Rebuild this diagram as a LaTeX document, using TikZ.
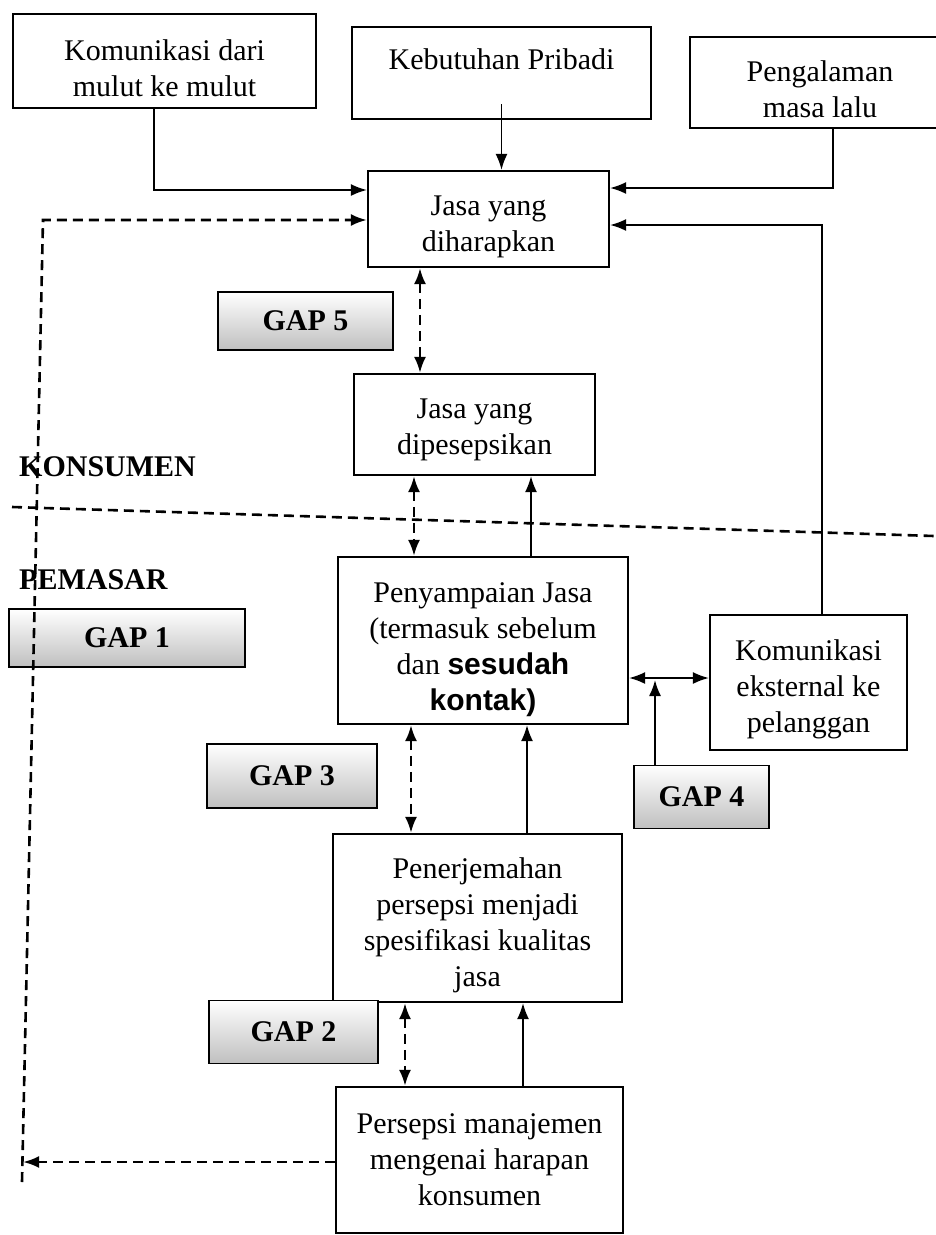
\documentclass[tikz,border=0pt]{standalone}
\usepackage{fontspec}
\setmainfont{Liberation Serif}
\setsansfont{Liberation Sans}
\usetikzlibrary{arrows.meta,calc}
\newcommand{\tpad}{\rule{0pt}{35pt}}
\begin{document}
\begin{tikzpicture}[x=1pt,y=-1pt,
  box/.style={draw, line width=2.2pt, align=center, inner sep=0pt, font=\fontsize{30}{36}\selectfont},
  gapbox/.style={draw, line width=1.6pt, top color=white, middle color=white, bottom color=black!25, inner sep=0pt, font=\bfseries\fontsize{30}{36}\selectfont},
  lbl/.style={inner sep=0pt, font=\bfseries\fontsize{30}{36}\selectfont},
  tip/.style={-{Latex[length=16pt,width=12pt]}},
  arr/.style={line width=1.8pt, tip},
  darr/.style={line width=1.8pt, {Latex[length=16pt,width=12pt]}-{Latex[length=16pt,width=12pt]}},
  dsh/.style={line width=2.6pt, dash pattern=on 10pt off 6pt},
  ddarr/.style={dsh, {Latex[length=16pt,width=12pt]}-{Latex[length=16pt,width=12pt]}},
]
\useasboundingbox[fill=white] (0,0) rectangle (936,1235);

% boxes
\node[box, minimum width=303pt, minimum height=94pt] (kom) at (164.5,61) {\tpad Komunikasi dari\\mulut ke mulut};
\node[box, minimum width=299pt, minimum height=92pt, text height=22pt, text depth=30pt] (kb) at (501.5,73) {Kebutuhan Pribadi};
\node[box, minimum width=260pt, minimum height=91pt] (pm) at (820,82.5) {\tpad Pengalaman\\masa lalu};
\node[box, minimum width=241pt, minimum height=96pt] (jd) at (488.5,219) {\tpad Jasa yang\\diharapkan};
\node[box, minimum width=241pt, minimum height=101pt] (jp) at (474.5,424.5) {\rule{0pt}{31pt}Jasa yang\\dipesepsikan};
\node[box, minimum width=290pt, minimum height=167pt] (pj) at (483,640.5) {\rule{0pt}{38pt}Penyampaian Jasa\\(termasuk sebelum\\dan {\sffamily\bfseries sesudah}\\{\sffamily\bfseries kontak)}};
\node[box, minimum width=197pt, minimum height=135pt] (ke) at (808.5,682.5) {\tpad Komunikasi\\eksternal ke\\pelanggan};
\node[box, minimum width=289pt, minimum height=168pt] (pn) at (477.5,918) {\tpad Penerjemahan\\persepsi menjadi\\spesifikasi kualitas\\jasa};
\node[box, minimum width=287pt, minimum height=146pt] (ps) at (479.5,1160) {Persepsi manajemen\\mengenai harapan\\konsumen};

% gap boxes
\node[gapbox, minimum width=175pt, minimum height=58pt] (g5) at (305.5,321) {GAP 5};
\node[gapbox, minimum width=236pt, minimum height=58pt] (g1) at (127,638) {GAP 1};
\node[gapbox, minimum width=170pt, minimum height=64pt] (g3) at (292,776) {GAP 3};
\node[gapbox, minimum width=135pt, minimum height=63pt] (g4) at (701.5,797) {GAP 4};
\node[gapbox, minimum width=169pt, minimum height=63pt] (g2) at (293.5,1032) {GAP 2};

% side labels
\node[lbl, anchor=west] (kons) at (19,467) {KONSUMEN};
\node[lbl, anchor=west] (pems) at (19,580) {PEMASAR};

% helper coordinates
\coordinate (c1) at (154,190);
\coordinate (c3) at (833,188);
\coordinate (c4) at (822,225);
\coordinate (c7) at (420,0);
\coordinate (c8) at (414,0);
\coordinate (c9) at (531,0);
\coordinate (c10) at (0,678);
\coordinate (c11) at (655,680);
\coordinate (c12) at (411,0);
\coordinate (c13) at (527,0);
\coordinate (c14) at (405,0);
\coordinate (c15) at (523,0);
\coordinate (lt) at (43,220);
\coordinate (lb) at (22,1182);
\coordinate (la) at (23,1162);
\coordinate (dl) at (12,507);
\coordinate (dr) at (934,536);

% solid connectors
\draw[arr] (kom.south -| c1) |- (jd.west |- c1);
\draw[arr] ([yshift=16pt]kb.south) -- (kb.south |- jd.north);
\draw[arr] (pm.south -| c3) |- (jd.east |- c3);
\draw[arr] (ke.north -| c4) |- (jd.east |- c4);
\draw[arr] (pj.north -| c9) -- (jp.south -| c9);
\draw[darr] (pj.east |- c10) -- (ke.west |- c10);
\draw[arr] (g4.north -| c11) -- (c11);
\draw[arr] (pn.north -| c13) -- (pj.south -| c13);
\draw[arr] (ps.north -| c15) -- (pn.south -| c15);

% dashed connectors
\draw[ddarr] (jd.south -| c7) -- (jp.north -| c7);
\draw[ddarr] (jp.south -| c8) -- (pj.north -| c8);
\draw[ddarr] (pj.south -| c12) -- (pn.north -| c12);
\draw[ddarr] (pn.south -| c14) -- (ps.north -| c14);
\draw[dsh, tip] (ps.west |- la) -- (la);
\draw[dsh, tip] (lb) -- (lt) -- (jd.west |- lt);

% divider
\draw[dsh] (dl) -- (dr);
\end{tikzpicture}
\end{document}
